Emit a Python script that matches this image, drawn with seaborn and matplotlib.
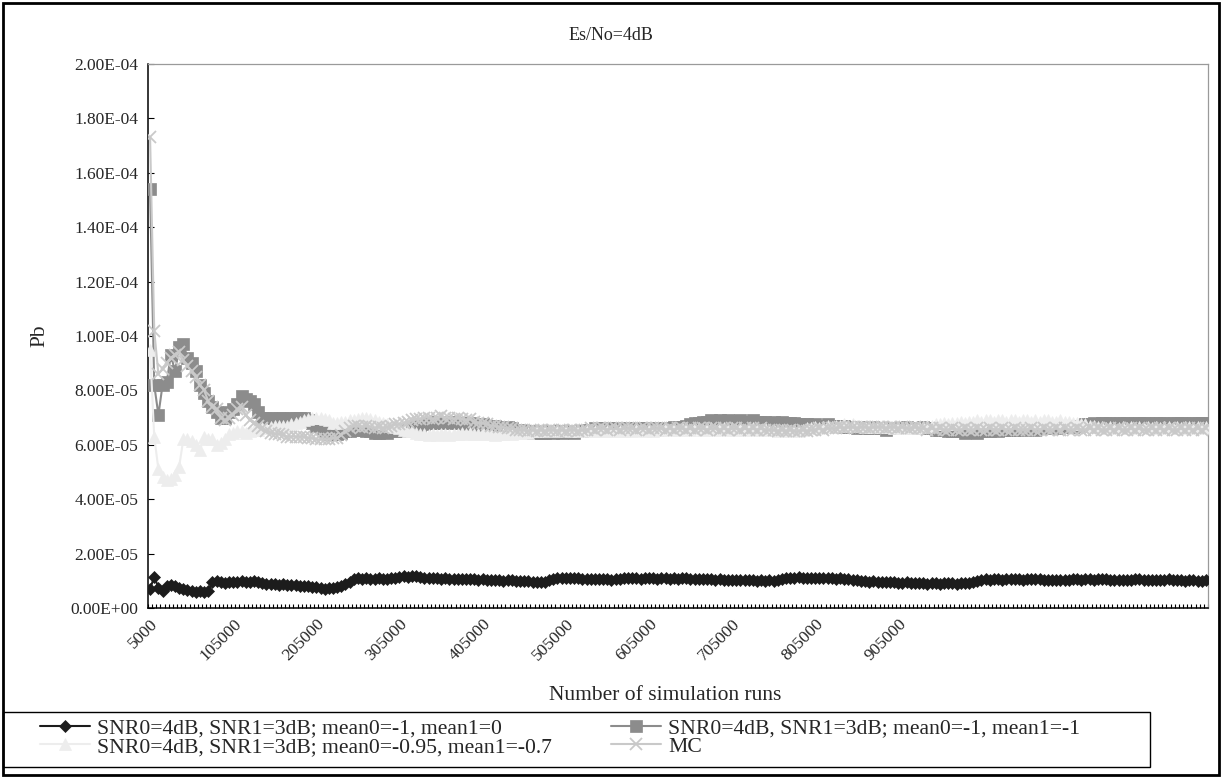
import numpy as np
import pandas as pd
import matplotlib
matplotlib.use("Agg")
import matplotlib.pyplot as plt
import seaborn as sns
from matplotlib.patches import Rectangle
from matplotlib.lines import Line2D

# Bit-error probability estimates (units of 1e-5), one value per batch of 5000 runs
pb_mean1_0 = [
    0.70, 1.15, 0.75, 0.62, 0.80, 0.85, 0.80, 0.75, 0.70, 0.66, 0.62, 0.60, 0.61, 0.60, 0.62,
    0.95, 1.00, 0.96, 0.92, 0.94, 0.97, 0.95, 1.00, 0.96, 0.94, 0.98, 0.95, 0.92, 0.90, 0.88,
    0.88, 0.86, 0.87, 0.85, 0.86, 0.84, 0.82, 0.82, 0.80, 0.78, 0.76, 0.72, 0.70, 0.72, 0.74,
    0.78, 0.82, 0.88, 0.96, 1.05, 1.12, 1.08, 1.10, 1.06, 1.08, 1.10, 1.08, 1.06, 1.10, 1.12,
    1.14, 1.16, 1.13, 1.16, 1.18, 1.14, 1.12, 1.10, 1.12, 1.10, 1.08, 1.10, 1.08, 1.06, 1.08,
    1.08, 1.06, 1.08, 1.06, 1.04, 1.06, 1.04, 1.03, 1.04, 1.02, 1.01, 1.03, 1.02, 1.00, 1.01,
    1.00, 0.98, 0.96, 0.95, 0.94, 0.96, 1.02, 1.08, 1.10, 1.12, 1.10, 1.11, 1.09, 1.10, 1.08,
    1.06, 1.08, 1.06, 1.07, 1.05, 1.06, 1.04, 1.06, 1.08, 1.10, 1.12, 1.10, 1.11, 1.08, 1.10,
    1.12, 1.10, 1.08, 1.10, 1.09, 1.08, 1.10, 1.08, 1.09, 1.10, 1.08, 1.07, 1.08, 1.06, 1.08,
    1.06, 1.04, 1.05, 1.03, 1.04, 1.02, 1.04, 1.03, 1.02, 1.04, 1.03, 1.01, 1.02, 1.00, 1.02,
    1.01, 1.03, 1.06, 1.10, 1.12, 1.10, 1.13, 1.11, 1.12, 1.10, 1.12, 1.11, 1.10, 1.12, 1.10,
    1.08, 1.10, 1.08, 1.06, 1.04, 1.02, 1.00, 0.98, 0.96, 0.98, 0.96, 0.95, 0.94, 0.96, 0.94,
    0.93, 0.92, 0.94, 0.92, 0.91, 0.93, 0.92, 0.90, 0.92, 0.91, 0.90, 0.92, 0.91, 0.92, 0.90,
    0.91, 0.93, 0.92, 0.94, 0.98, 1.03, 1.05, 1.04, 1.06, 1.05, 1.04, 1.06, 1.05, 1.07, 1.06,
    1.04, 1.06, 1.08, 1.06, 1.05, 1.04, 1.03, 1.04, 1.02, 1.03, 1.04, 1.03, 1.05, 1.06, 1.04,
    1.06, 1.05, 1.04, 1.06, 1.08, 1.06, 1.04, 1.03, 1.04, 1.02, 1.03, 1.04, 1.06, 1.05, 1.04,
    1.03, 1.02, 1.04, 1.03, 1.04, 1.06, 1.04, 1.03, 1.02, 1.01, 1.02, 1.03, 1.01, 1.00, 1.02,
]

pb_mean1_m1 = [
    15.40, 8.20, 7.10, 8.20, 8.30, 9.30, 8.70, 9.60, 9.70, 9.20, 9.00, 8.70, 8.20, 7.90, 7.60,
    7.40, 7.20, 7.00, 7.00, 7.20, 7.30, 7.50, 7.80, 7.70, 7.60, 7.50, 7.20, 7.00, 7.00, 7.00,
    6.90, 7.00, 7.00, 6.90, 7.00, 7.00, 7.00, 7.00, 6.90, 6.80, 6.70, 6.60, 6.50, 6.40, 6.40,
    6.40, 6.45, 6.50, 6.50, 6.55, 6.60, 6.55, 6.50, 6.50, 6.45, 6.45, 6.50, 6.45, 6.50, 6.50,
    6.55, 6.50, 6.55, 6.60, 6.65, 6.70, 6.75, 6.80, 6.80, 6.85, 6.80, 6.85, 6.80, 6.85, 6.80,
    6.80, 6.75, 6.80, 6.75, 6.70, 6.75, 6.70, 6.65, 6.70, 6.65, 6.60, 6.65, 6.60, 6.55, 6.55,
    6.50, 6.50, 6.45, 6.50, 6.45, 6.45, 6.50, 6.45, 6.50, 6.45, 6.50, 6.50, 6.45, 6.50, 6.50,
    6.55, 6.55, 6.60, 6.55, 6.60, 6.60, 6.55, 6.60, 6.60, 6.60, 6.55, 6.60, 6.60, 6.60, 6.55,
    6.60, 6.60, 6.55, 6.60, 6.60, 6.60, 6.65, 6.60, 6.65, 6.70, 6.75, 6.80, 6.80, 6.85, 6.85,
    6.90, 6.85, 6.90, 6.85, 6.90, 6.85, 6.85, 6.90, 6.85, 6.85, 6.90, 6.85, 6.85, 6.85, 6.80,
    6.85, 6.80, 6.85, 6.80, 6.80, 6.80, 6.75, 6.75, 6.75, 6.70, 6.75, 6.70, 6.70, 6.75, 6.70,
    6.70, 6.65, 6.70, 6.65, 6.65, 6.60, 6.65, 6.60, 6.60, 6.65, 6.60, 6.60, 6.55, 6.60, 6.60,
    6.60, 6.60, 6.65, 6.60, 6.60, 6.60, 6.65, 6.60, 6.60, 6.55, 6.55, 6.55, 6.50, 6.50, 6.50,
    6.50, 6.45, 6.50, 6.50, 6.45, 6.50, 6.50, 6.50, 6.55, 6.50, 6.55, 6.55, 6.55, 6.55, 6.60,
    6.55, 6.60, 6.60, 6.55, 6.60, 6.60, 6.60, 6.65, 6.60, 6.65, 6.65, 6.70, 6.65, 6.70, 6.70,
    6.75, 6.75, 6.80, 6.75, 6.80, 6.80, 6.80, 6.75, 6.80, 6.80, 6.80, 6.75, 6.80, 6.80, 6.80,
    6.80, 6.75, 6.80, 6.80, 6.80, 6.75, 6.80, 6.80, 6.80, 6.80, 6.75, 6.80, 6.80, 6.80, 6.80,
]

pb_mean1_m07 = [
    9.50, 6.30, 5.10, 4.80, 4.70, 4.75, 4.90, 5.20, 6.20, 6.20, 6.15, 6.00, 5.80, 6.30, 6.20,
    6.20, 6.00, 6.05, 6.20, 6.40, 6.45, 6.50, 6.50, 6.45, 6.50, 6.55, 6.55, 6.60, 6.60, 6.65,
    6.70, 6.70, 6.70, 6.70, 6.75, 6.80, 6.85, 6.90, 6.95, 7.00, 7.00, 7.00, 6.95, 6.90, 6.80,
    6.80, 6.85, 6.85, 6.90, 6.90, 6.95, 7.00, 7.00, 6.95, 6.90, 6.85, 6.80, 6.75, 6.70, 6.65,
    6.60, 6.55, 6.50, 6.50, 6.45, 6.40, 6.40, 6.35, 6.40, 6.35, 6.40, 6.40, 6.35, 6.40, 6.40,
    6.45, 6.40, 6.45, 6.40, 6.40, 6.45, 6.40, 6.40, 6.35, 6.40, 6.40, 6.45, 6.40, 6.45, 6.45,
    6.50, 6.45, 6.50, 6.50, 6.55, 6.50, 6.55, 6.55, 6.50, 6.55, 6.55, 6.50, 6.55, 6.50, 6.55,
    6.50, 6.55, 6.50, 6.50, 6.55, 6.50, 6.50, 6.55, 6.50, 6.50, 6.55, 6.50, 6.55, 6.55, 6.50,
    6.55, 6.50, 6.55, 6.55, 6.60, 6.55, 6.60, 6.55, 6.60, 6.60, 6.55, 6.60, 6.60, 6.55, 6.60,
    6.60, 6.55, 6.60, 6.60, 6.55, 6.60, 6.55, 6.60, 6.55, 6.60, 6.60, 6.55, 6.55, 6.60, 6.55,
    6.55, 6.50, 6.55, 6.50, 6.50, 6.55, 6.50, 6.55, 6.60, 6.60, 6.65, 6.60, 6.65, 6.70, 6.65,
    6.70, 6.70, 6.75, 6.70, 6.75, 6.70, 6.70, 6.65, 6.70, 6.65, 6.65, 6.70, 6.65, 6.65, 6.60,
    6.65, 6.60, 6.60, 6.65, 6.60, 6.65, 6.65, 6.70, 6.70, 6.75, 6.75, 6.80, 6.75, 6.80, 6.80,
    6.85, 6.80, 6.85, 6.85, 6.90, 6.85, 6.90, 6.90, 6.85, 6.90, 6.90, 6.85, 6.90, 6.90, 6.85,
    6.90, 6.90, 6.85, 6.90, 6.85, 6.90, 6.90, 6.85, 6.85, 6.90, 6.85, 6.85, 6.80, 6.80, 6.75,
    6.75, 6.70, 6.70, 6.65, 6.65, 6.60, 6.65, 6.60, 6.60, 6.65, 6.60, 6.65, 6.60, 6.65, 6.60,
    6.65, 6.60, 6.65, 6.60, 6.65, 6.65, 6.60, 6.65, 6.60, 6.65, 6.65, 6.60, 6.65, 6.60, 6.65,
]

pb_mc = [
    17.30, 10.20, 8.60, 8.80, 9.00, 9.20, 9.30, 9.40, 9.10, 8.90, 8.70, 8.50, 8.20, 8.00, 7.60,
    7.40, 7.30, 7.00, 6.90, 7.00, 7.10, 7.30, 7.40, 7.10, 6.90, 6.80, 6.70, 6.60, 6.50, 6.45,
    6.40, 6.40, 6.35, 6.30, 6.30, 6.30, 6.30, 6.30, 6.25, 6.25, 6.20, 6.20, 6.20, 6.20, 6.25,
    6.25, 6.35, 6.50, 6.60, 6.70, 6.70, 6.65, 6.70, 6.65, 6.60, 6.65, 6.60, 6.65, 6.70, 6.75,
    6.75, 6.80, 6.85, 6.90, 6.95, 6.95, 7.00, 7.00, 6.95, 7.00, 7.05, 7.00, 7.00, 6.95, 7.00,
    6.95, 6.90, 6.95, 6.85, 6.80, 6.80, 6.75, 6.70, 6.70, 6.65, 6.65, 6.60, 6.60, 6.55, 6.55,
    6.55, 6.50, 6.55, 6.50, 6.55, 6.50, 6.55, 6.55, 6.50, 6.55, 6.50, 6.55, 6.55, 6.50, 6.55,
    6.55, 6.60, 6.55, 6.60, 6.60, 6.55, 6.60, 6.60, 6.55, 6.60, 6.60, 6.60, 6.55, 6.60, 6.60,
    6.55, 6.60, 6.60, 6.60, 6.55, 6.60, 6.55, 6.60, 6.60, 6.55, 6.60, 6.55, 6.60, 6.60, 6.55,
    6.60, 6.60, 6.55, 6.60, 6.55, 6.60, 6.60, 6.55, 6.60, 6.55, 6.60, 6.55, 6.60, 6.55, 6.55,
    6.55, 6.50, 6.55, 6.50, 6.55, 6.50, 6.50, 6.55, 6.50, 6.55, 6.55, 6.60, 6.55, 6.60, 6.60,
    6.60, 6.65, 6.60, 6.65, 6.65, 6.60, 6.65, 6.65, 6.60, 6.65, 6.65, 6.65, 6.60, 6.65, 6.65,
    6.60, 6.65, 6.60, 6.60, 6.65, 6.60, 6.60, 6.55, 6.60, 6.55, 6.60, 6.55, 6.55, 6.60, 6.55,
    6.55, 6.60, 6.55, 6.55, 6.60, 6.55, 6.55, 6.60, 6.55, 6.55, 6.60, 6.55, 6.55, 6.60, 6.55,
    6.55, 6.55, 6.60, 6.55, 6.55, 6.60, 6.55, 6.55, 6.60, 6.55, 6.60, 6.55, 6.55, 6.60, 6.55,
    6.55, 6.60, 6.55, 6.60, 6.55, 6.55, 6.60, 6.55, 6.60, 6.55, 6.55, 6.60, 6.55, 6.60, 6.55,
    6.55, 6.60, 6.55, 6.60, 6.55, 6.60, 6.55, 6.55, 6.60, 6.55, 6.60, 6.55, 6.60, 6.55, 6.60,
]

series_labels = [
    "SNR0=4dB, SNR1=3dB; mean0=-1, mean1=0",
    "SNR0=4dB, SNR1=3dB; mean0=-1, mean1=-1",
    "SNR0=4dB, SNR1=3dB; mean0=-0.95, mean1=-0.7",
    "MC",
]

# labelled categories (every 20th batch)
x_tick_labels = ["5000", "105000", "205000", "305000", "405000",
                 "505000", "605000", "705000", "805000", "905000"]
y_tick_values = [0.0, 2e-5, 4e-5, 6e-5, 8e-5, 1e-4, 1.2e-4, 1.4e-4, 1.6e-4, 1.8e-4, 2e-4]

UNIT = 1e-5
series_values = [pb_mean1_0, pb_mean1_m1, pb_mean1_m07, pb_mc]

frames = []
for label, vals in zip(series_labels, series_values):
    frames.append(pd.DataFrame({
        "batch": np.arange(len(vals)),
        "Pb": np.asarray(vals) * UNIT,
        "series": label,
    }))
df = pd.concat(frames, ignore_index=True)

styles = [
    dict(color="#1c1c1c", marker="D", markersize=6.2, markeredgecolor="#1c1c1c",
         markerfacecolor="#1c1c1c", markeredgewidth=0.5, linewidth=1.5),
    dict(color="#8c8c8c", marker="s", markersize=8.5, markeredgecolor="#8c8c8c",
         markerfacecolor="#8c8c8c", markeredgewidth=0.5, linewidth=1.5),
    dict(color="#ededed", marker="^", markersize=8.5, markeredgecolor="#ededed",
         markerfacecolor="#ededed", markeredgewidth=0.5, linewidth=1.5),
    dict(color="#c9c9c9", marker="x", markersize=8.5, markeredgecolor="#c9c9c9",
         markeredgewidth=1.3, linewidth=1.5),
]

sns.set_theme(style="white")
plt.rcParams["font.family"] = ["Liberation Serif", "DejaVu Serif"]

W, H = 1222, 778
fig = plt.figure(figsize=(W / 100, H / 100), dpi=100)
fig.patch.set_facecolor("white")

# plot area in pixel coordinates
px_left, px_right, px_top, px_bottom = 148, 1208, 64, 608
ax = fig.add_axes([px_left / W, 1 - px_bottom / H,
                   (px_right - px_left) / W, (px_bottom - px_top) / H])
ax.set_facecolor("white")

for i, (label, st) in enumerate(zip(series_labels, styles)):
    sub = df[df["series"] == label]
    sns.lineplot(data=sub, x="batch", y="Pb", ax=ax, legend=False,
                 zorder=3 + i, clip_on=True, **st)

n_batches = len(pb_mean1_0)
ax.set_xlim(-0.5, n_batches - 0.5)
ax.set_ylim(0, 2e-4)

# category axis: labels on every 20th batch, small tick marks between batches
ax.set_xticks(np.arange(len(x_tick_labels)) * 20)
ax.set_xticklabels(x_tick_labels, rotation=45, ha="right", va="top",
                   rotation_mode="anchor", fontsize=12.5)
ax.set_xticks(np.arange(n_batches + 1) - 0.5, minor=True)
ax.tick_params(axis="x", which="major", length=0, pad=6)
ax.tick_params(axis="x", which="minor", direction="in", length=3.0,
               width=0.8, color="black", bottom=True)

ax.set_yticks(y_tick_values)
ax.set_yticklabels([f"{v:.2E}" for v in y_tick_values], fontsize=12.5)
ax.tick_params(axis="y", which="major", direction="in", length=4,
               width=0.8, color="black", left=True, pad=7)

for side in ("left", "bottom"):
    ax.spines[side].set_color("black")
    ax.spines[side].set_linewidth(1.1)
for side in ("top", "right"):
    ax.spines[side].set_color("#9a9a9a")
    ax.spines[side].set_linewidth(0.9)
ax.grid(False)
ax.set_xlabel("")
ax.set_ylabel("")

# titles
fig.text(611 / W, 1 - 36 / H, "Es/No=4dB", ha="center", va="center", fontsize=13)
fig.text(665 / W, 1 - 696 / H, "Number of simulation runs", ha="center",
         va="center", fontsize=15.5)
fig.text(40 / W, 1 - 336 / H, "Pb", ha="center", va="center",
         rotation=90, fontsize=15.5)

# legend box and entries
fig.patches.append(Rectangle((3 / W, 1 - 767 / H), (1150 - 3) / W, (767 - 712) / H,
                             transform=fig.transFigure, fill=False,
                             edgecolor="black", linewidth=1.0, zorder=5))
handles = []
for st in styles:
    handles.append(Line2D([], [], **st))
order = [0, 2, 1, 3]
leg = fig.legend([handles[k] for k in order], [series_labels[k] for k in order],
                 ncol=2, loc="upper left", bbox_to_anchor=(40 / W, 1 - 718 / H),
                 frameon=False, fontsize=15.6, handlelength=2.3, handletextpad=0.32,
                 columnspacing=2.75, labelspacing=-0.06, borderpad=0,
                 borderaxespad=0)

# outer chart border
fig.patches.append(Rectangle((3 / W, 3 / H), (W - 6) / W, (H - 6) / H,
                             transform=fig.transFigure, fill=False,
                             edgecolor="black", linewidth=2.0, zorder=6))

fig.savefig("out.png", dpi=100)
